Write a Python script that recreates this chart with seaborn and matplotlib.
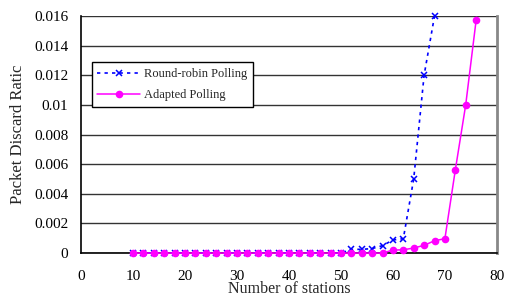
import pandas as pd
import matplotlib
matplotlib.use("Agg")
import matplotlib.pyplot as plt
import seaborn as sns

# stations (x) for each scheme
rr_stations = list(range(10, 70, 2))
rr_ratio = [0, 0, 0, 0, 0, 0, 0, 0, 0, 0,
            0, 0, 0, 0, 0, 0, 0, 0, 0, 0,
            0, 0.00025, 0.00025, 0.0003, 0.0005, 0.00088, 0.00097, 0.005, 0.012, 0.016]

ap_stations = list(range(10, 78, 2))
ap_ratio = [0, 0, 0, 0, 0, 0, 0, 0, 0, 0,
            0, 0, 0, 0, 0, 0, 0, 0, 0, 0,
            0, 0, 0, 0, 0, 0.0002, 0.00022, 0.00034, 0.00052, 0.00083,
            0.00097, 0.0056, 0.01, 0.0157]

yticks = [0, 0.002, 0.004, 0.006, 0.008, 0.01, 0.012, 0.014, 0.016]
ytick_labels = ["0", "0.002", "0.004", "0.006", "0.008", "0.01", "0.012", "0.014", "0.016"]

df_rr = pd.DataFrame({"Stations": rr_stations, "Ratio": rr_ratio})
df_ap = pd.DataFrame({"Stations": ap_stations, "Ratio": ap_ratio})

sns.set_style("white")
plt.rcParams["font.family"] = ["Liberation Serif", "DejaVu Serif"]
plt.rcParams["font.size"] = 10

fig = plt.figure(figsize=(5.06, 2.97), dpi=100)
ax = fig.add_axes([0.160, 0.148, 0.822, 0.798])

sns.lineplot(x="Stations", y="Ratio", data=df_rr, ax=ax, color="#0000ff",
             linestyle=(0, (2, 2.5)), linewidth=1.2, marker="x", markersize=5,
             markeredgewidth=1.1, markeredgecolor="#0000ff",
             label="Round-robin Polling", zorder=3, clip_on=False)
sns.lineplot(x="Stations", y="Ratio", data=df_ap, ax=ax, color="#ff00ff",
             linewidth=1.1, marker="o", markersize=5.5, markeredgewidth=0,
             markeredgecolor="#ff00ff", label="Adapted Polling", zorder=4,
             clip_on=False)

ax.set_xlim(0, 80)
ax.set_ylim(0, 0.016)
ax.set_xticks(range(0, 90, 10))
ax.set_yticks(yticks)
ax.set_yticklabels(ytick_labels)
ax.yaxis.grid(True, color="#333333", linewidth=1)
ax.xaxis.grid(False)
ax.set_axisbelow(True)
ax.tick_params(axis="x", direction="in", length=3, colors="black", labelsize=11, pad=12)
ax.tick_params(axis="y", length=0, colors="black", labelsize=11, pad=9)

for side in ["left", "bottom"]:
    ax.spines[side].set_color("black")
    ax.spines[side].set_linewidth(1.2)
ax.spines["top"].set_visible(False)
ax.spines["right"].set_color("#888888")
ax.spines["right"].set_linewidth(2)

ax.set_xlabel("Number of stations", fontsize=11.5, labelpad=-1)
ax.set_ylabel("Packet Discard Ratic", fontsize=12, labelpad=6)

leg = ax.legend(loc="upper left", bbox_to_anchor=(0.026, 0.805), frameon=True,
                fancybox=False, framealpha=1, edgecolor="black", fontsize=9,
                handlelength=3.4, borderpad=0.45, labelspacing=0.75, handletextpad=0.3,
                borderaxespad=0)
leg.get_frame().set_linewidth(1)

fig.savefig("out.png", dpi=100)
